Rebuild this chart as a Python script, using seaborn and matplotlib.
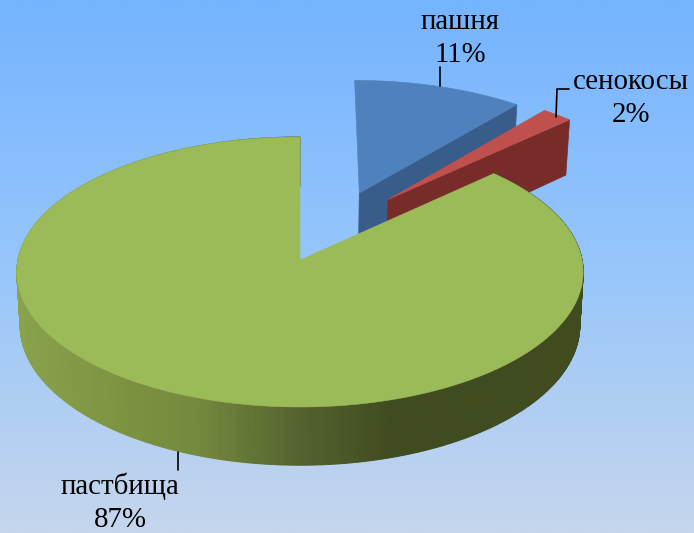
import numpy as np
import matplotlib.pyplot as plt
import seaborn as sns

sns.set_theme(style="white")
plt.rcParams['font.family'] = ['Liberation Serif', 'DejaVu Serif']

categories = ["пашня", "сенокосы", "пастбища"]
shares = [11, 2, 87]
top_colors = ["#4f81bd", "#c0504d", "#9bbb59"]
wall_colors = ["#385d8a", "#772c2a", None]
explode_u = [0.22, 0.325, 0]
explode_v = [0.523, 0.47, 0]
wall_scale = [1.0, 1.15, 1.0]

# picture geometry, pixels
W, H = 694, 533
CX, CY = 300, 260
RX, RY = 282, 133.9
PERSP = 0.0889
DEPTH = 53

green_ramp = sns.blend_palette(["#8aa54d", "#7f9643", "#73893d", "#566430", "#404b20", "#404b20", "#404b20"], 100)


def project(u, v, z=0.0):
    # pie plane -> screen, z goes down the wall
    w = 1 + PERSP * v
    shrink = 1 - 0.012 * z
    return CX + shrink * RX * u / w, CY - RY * v / w + z * DEPTH / w


def arc(a0, a1, n):
    t = np.radians(np.linspace(a0, a1, n))
    return np.sin(t), np.cos(t)


fig = plt.figure(figsize=(W / 100, H / 100), dpi=100)
ax = fig.add_axes([0, 0, 1, 1])
ax.set_xlim(0, W)
ax.set_ylim(H, 0)
ax.axis("off")

bg = sns.blend_palette(["#75b4ff", "#97c6fb", "#c6d6ec"], 256)
ax.imshow(np.array(bg)[:, None, :], extent=[0, W, H, 0], aspect="auto", zorder=0)

edges = np.cumsum([0] + shares) / sum(shares) * 360
z = 1
for i, name in enumerate(categories):
    a0, a1 = edges[i], edges[i + 1]
    du, dv = explode_u[i], explode_v[i]
    su, sv = arc(a0, a1, max(4, int(a1 - a0) * 2))
    u = su + du
    v = sv + dv

    if wall_colors[i] is not None:
        # cut face on the clockwise side of the slice
        ex, ey = project(np.array([du, u[-1]]), np.array([dv, v[-1]]))
        bx, by = project(np.array([du, u[-1]]), np.array([dv, v[-1]]), wall_scale[i])
        ax.fill(np.r_[ex, bx[::-1]], np.r_[ey, by[::-1]], color=wall_colors[i], lw=0.5, zorder=z)
    else:
        # outer wall, shaded strip by strip
        for j in range(len(u) - 1):
            tx, ty = project(u[j:j + 2], v[j:j + 2])
            bx, by = project(u[j:j + 2], v[j:j + 2], wall_scale[i])
            k = int(np.clip(tx.mean() / 582 * 99, 0, 99))
            ax.fill(np.r_[tx, bx[::-1]], np.r_[ty, by[::-1]], color=green_ramp[k], lw=0.8, zorder=z)

    px, py = project(np.r_[du, u], np.r_[dv, v])
    ax.fill(px, py, color=top_colors[i], lw=0.4, zorder=z + 1)
    z += 2

# labels and leader lines
labels = [f"{c}\n{s}%" for c, s in zip(categories, shares)]
label_xy = [(460, 38.5), (631, 98.5), (120, 503)]
for txt, (x, y) in zip(labels, label_xy):
    ax.text(x, y, txt, ha="center", va="center", fontsize=20.8, color="black",
            linespacing=1.33, zorder=20)

ax.plot([440, 440], [67, 86], color="black", lw=1.2, zorder=19)
ax.plot([556, 557, 569], [117, 89, 89], color="black", lw=1.2, zorder=19)
ax.plot([178, 178], [452, 470], color="black", lw=1.2, zorder=19)

fig.savefig("out.png", dpi=100)
